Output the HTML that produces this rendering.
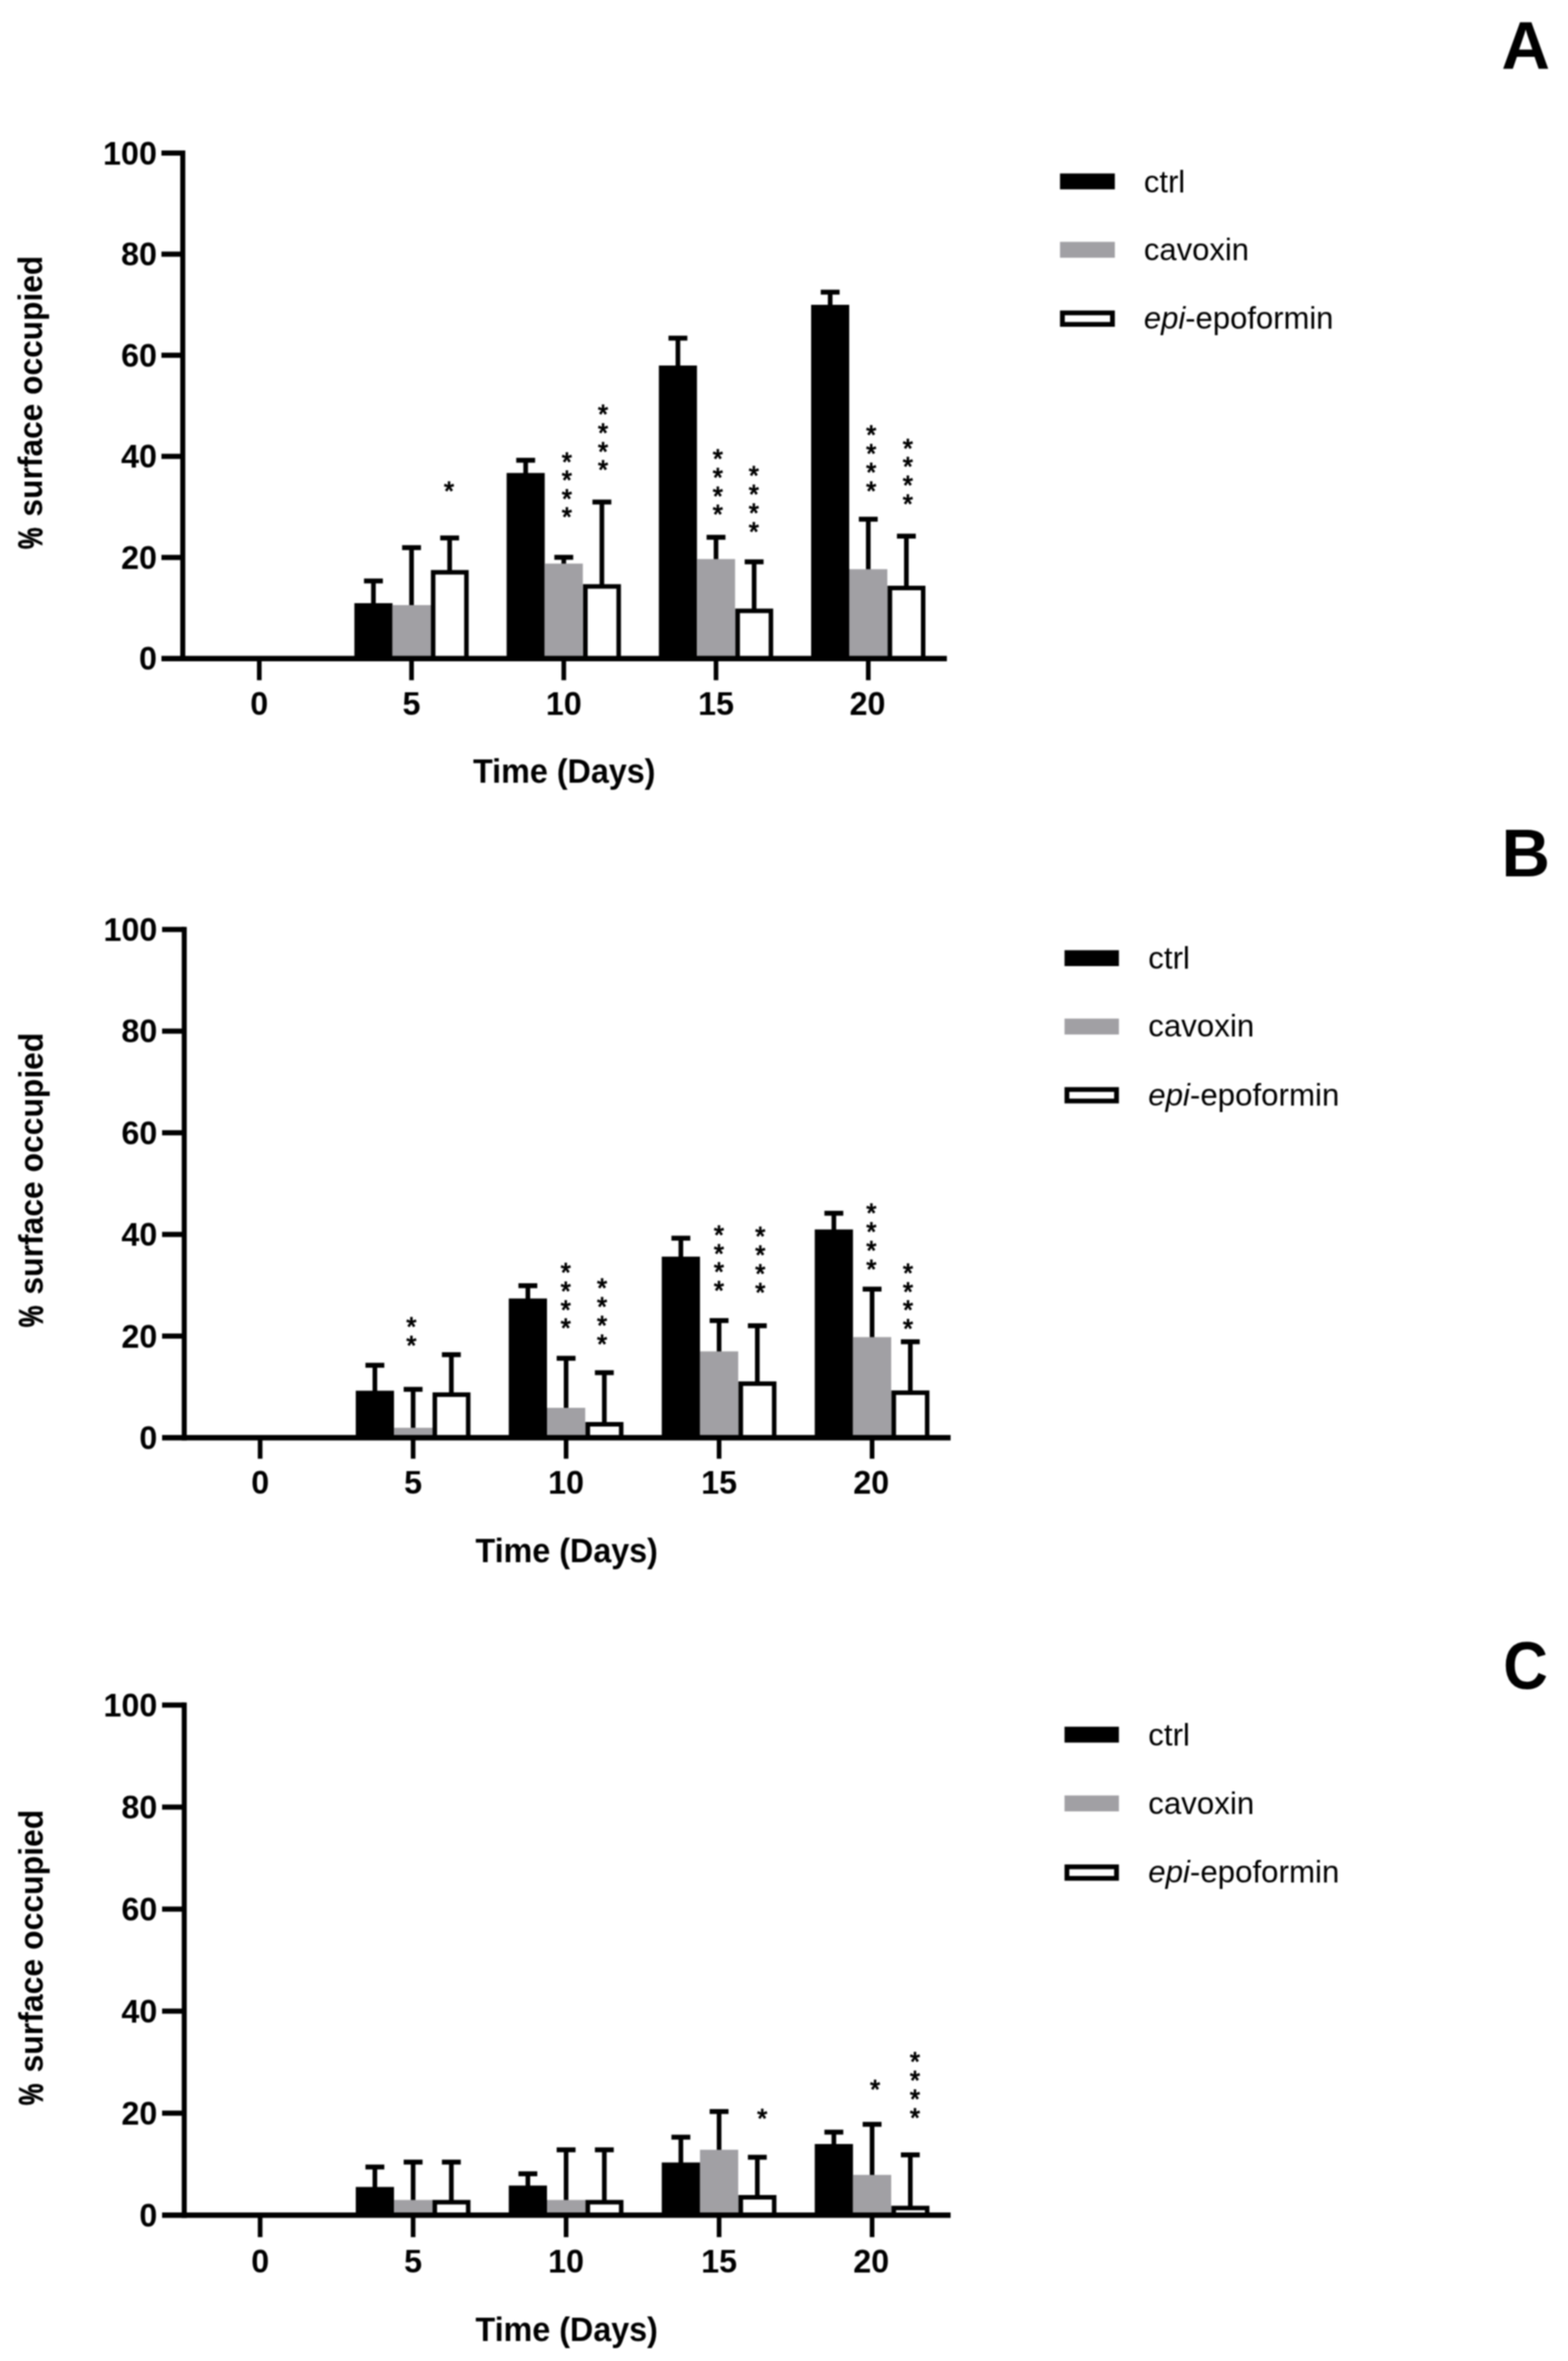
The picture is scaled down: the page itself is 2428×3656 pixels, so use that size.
<!DOCTYPE html>
<html lang="en">
<head>
<meta charset="utf-8">
<title>Surface occupied over time</title>
<style>
html,body{margin:0;padding:0;background:#fff;}
body{width:2428px;height:3656px;overflow:hidden;}
svg{display:block;filter:blur(1.1px);}
svg text{font-family:"Liberation Sans",Arial,Helvetica,sans-serif;fill:#000;}
</style>
</head>
<body>
<svg width="2428" height="3656" viewBox="0 0 2428 3656">
<rect x="0" y="0" width="2428" height="3656" fill="#fff"/>
<g>
<rect x="250.00" y="233.00" width="33.00" height="8.00" fill="#000"/>
<text x="243.00" y="254.60" font-size="50" font-weight="bold" text-anchor="end">100</text>
<rect x="250.00" y="389.56" width="33.00" height="8.00" fill="#000"/>
<text x="243.00" y="411.16" font-size="50" font-weight="bold" text-anchor="end">80</text>
<rect x="250.00" y="546.12" width="33.00" height="8.00" fill="#000"/>
<text x="243.00" y="567.72" font-size="50" font-weight="bold" text-anchor="end">60</text>
<rect x="250.00" y="702.68" width="33.00" height="8.00" fill="#000"/>
<text x="243.00" y="724.28" font-size="50" font-weight="bold" text-anchor="end">40</text>
<rect x="250.00" y="859.24" width="33.00" height="8.00" fill="#000"/>
<text x="243.00" y="880.84" font-size="50" font-weight="bold" text-anchor="end">20</text>
<text x="243.00" y="1037.40" font-size="50" font-weight="bold" text-anchor="end">0</text>
<rect x="397.90" y="1019.80" width="7.20" height="33.50" fill="#000"/>
<text x="401.50" y="1107.00" font-size="50" font-weight="bold" text-anchor="middle">0</text>
<rect x="633.65" y="1019.80" width="7.20" height="33.50" fill="#000"/>
<text x="637.25" y="1107.00" font-size="50" font-weight="bold" text-anchor="middle">5</text>
<rect x="869.40" y="1019.80" width="7.20" height="33.50" fill="#000"/>
<text x="873.00" y="1107.00" font-size="50" font-weight="bold" text-anchor="middle">10</text>
<rect x="1105.15" y="1019.80" width="7.20" height="33.50" fill="#000"/>
<text x="1108.75" y="1107.00" font-size="50" font-weight="bold" text-anchor="middle">15</text>
<rect x="1340.90" y="1019.80" width="7.20" height="33.50" fill="#000"/>
<text x="1343.20" y="1107.00" font-size="50" font-weight="bold" text-anchor="middle">20</text>
<text transform="translate(873.70,1212.10) scale(1,1.04)" font-size="50" font-weight="bold" text-anchor="middle">Time (Days)</text>
<text transform="translate(65.00,799.90) rotate(-90) scale(0.9540,1)" font-size="51.5" font-weight="bold">surface occupied</text>
<text transform="translate(65.00,850.30) rotate(-90) scale(0.7300,1)" font-size="51.5" font-weight="bold" stroke="#000" stroke-width="1.2">%</text>
<rect x="574.65" y="899.60" width="7.20" height="36.40" fill="#000"/>
<rect x="563.65" y="895.80" width="29.20" height="7.60" fill="#000"/>
<rect x="548.75" y="934.00" width="59.00" height="85.80" fill="#000"/>
<rect x="633.65" y="848.00" width="7.20" height="91.00" fill="#000"/>
<rect x="622.65" y="844.20" width="29.20" height="7.60" fill="#000"/>
<rect x="607.75" y="937.00" width="59.00" height="82.80" fill="#a1a0a4"/>
<rect x="666.25" y="937.00" width="1.70" height="82.80" fill="#a1a0a4"/>
<rect x="692.65" y="833.00" width="7.20" height="51.70" fill="#000"/>
<rect x="681.65" y="829.20" width="29.20" height="7.60" fill="#000"/>
<rect x="670.75" y="886.20" width="51.50" height="133.60" fill="#fff" stroke="#000" stroke-width="7.0"/>
<rect x="810.40" y="712.70" width="7.20" height="21.70" fill="#000"/>
<rect x="799.40" y="708.90" width="29.20" height="7.60" fill="#000"/>
<rect x="784.50" y="732.40" width="59.00" height="287.40" fill="#000"/>
<rect x="869.40" y="863.00" width="7.20" height="11.70" fill="#000"/>
<rect x="858.40" y="859.20" width="29.20" height="7.60" fill="#000"/>
<rect x="843.50" y="872.70" width="59.00" height="147.10" fill="#a1a0a4"/>
<rect x="902.00" y="904.60" width="1.70" height="115.20" fill="#a1a0a4"/>
<rect x="928.40" y="777.40" width="7.20" height="129.20" fill="#000"/>
<rect x="917.40" y="773.60" width="29.20" height="7.60" fill="#000"/>
<rect x="906.50" y="908.10" width="51.50" height="111.70" fill="#fff" stroke="#000" stroke-width="7.0"/>
<rect x="1046.15" y="523.60" width="7.20" height="44.40" fill="#000"/>
<rect x="1035.15" y="519.80" width="29.20" height="7.60" fill="#000"/>
<rect x="1020.25" y="566.00" width="59.00" height="453.80" fill="#000"/>
<rect x="1105.15" y="832.00" width="7.20" height="35.70" fill="#000"/>
<rect x="1094.15" y="828.20" width="29.20" height="7.60" fill="#000"/>
<rect x="1079.25" y="865.70" width="59.00" height="154.10" fill="#a1a0a4"/>
<rect x="1137.75" y="942.40" width="1.70" height="77.40" fill="#a1a0a4"/>
<rect x="1164.15" y="870.00" width="7.20" height="74.40" fill="#000"/>
<rect x="1153.15" y="866.20" width="29.20" height="7.60" fill="#000"/>
<rect x="1142.25" y="945.90" width="51.50" height="73.90" fill="#fff" stroke="#000" stroke-width="7.0"/>
<rect x="1281.90" y="452.40" width="7.20" height="21.60" fill="#000"/>
<rect x="1270.90" y="448.60" width="29.20" height="7.60" fill="#000"/>
<rect x="1256.00" y="472.00" width="59.00" height="547.80" fill="#000"/>
<rect x="1340.90" y="804.00" width="7.20" height="79.40" fill="#000"/>
<rect x="1329.90" y="800.20" width="29.20" height="7.60" fill="#000"/>
<rect x="1315.00" y="881.40" width="59.00" height="138.40" fill="#a1a0a4"/>
<rect x="1373.50" y="907.00" width="1.70" height="112.80" fill="#a1a0a4"/>
<rect x="1399.90" y="830.20" width="7.20" height="78.80" fill="#000"/>
<rect x="1388.90" y="826.40" width="29.20" height="7.60" fill="#000"/>
<rect x="1378.00" y="910.50" width="51.50" height="109.30" fill="#fff" stroke="#000" stroke-width="7.0"/>
<rect x="279.10" y="233.00" width="7.80" height="791.00" fill="#000"/>
<rect x="250.00" y="1015.60" width="1216.20" height="8.40" fill="#000"/>
<text x="695.40" y="774.10" font-size="40" font-weight="normal" stroke="#000" stroke-width="1.4" stroke-linejoin="round" text-anchor="middle">*</text>
<text x="877.80" y="729.00" font-size="40" font-weight="normal" stroke="#000" stroke-width="1.4" stroke-linejoin="round" text-anchor="middle">*</text>
<text x="877.80" y="757.37" font-size="40" font-weight="normal" stroke="#000" stroke-width="1.4" stroke-linejoin="round" text-anchor="middle">*</text>
<text x="877.80" y="785.73" font-size="40" font-weight="normal" stroke="#000" stroke-width="1.4" stroke-linejoin="round" text-anchor="middle">*</text>
<text x="877.80" y="814.10" font-size="40" font-weight="normal" stroke="#000" stroke-width="1.4" stroke-linejoin="round" text-anchor="middle">*</text>
<text x="933.90" y="655.30" font-size="40" font-weight="normal" stroke="#000" stroke-width="1.4" stroke-linejoin="round" text-anchor="middle">*</text>
<text x="933.90" y="683.90" font-size="40" font-weight="normal" stroke="#000" stroke-width="1.4" stroke-linejoin="round" text-anchor="middle">*</text>
<text x="933.90" y="712.50" font-size="40" font-weight="normal" stroke="#000" stroke-width="1.4" stroke-linejoin="round" text-anchor="middle">*</text>
<text x="933.90" y="741.10" font-size="40" font-weight="normal" stroke="#000" stroke-width="1.4" stroke-linejoin="round" text-anchor="middle">*</text>
<text x="1111.50" y="724.00" font-size="40" font-weight="normal" stroke="#000" stroke-width="1.4" stroke-linejoin="round" text-anchor="middle">*</text>
<text x="1111.50" y="752.80" font-size="40" font-weight="normal" stroke="#000" stroke-width="1.4" stroke-linejoin="round" text-anchor="middle">*</text>
<text x="1111.50" y="781.60" font-size="40" font-weight="normal" stroke="#000" stroke-width="1.4" stroke-linejoin="round" text-anchor="middle">*</text>
<text x="1111.50" y="810.40" font-size="40" font-weight="normal" stroke="#000" stroke-width="1.4" stroke-linejoin="round" text-anchor="middle">*</text>
<text x="1167.40" y="750.10" font-size="40" font-weight="normal" stroke="#000" stroke-width="1.4" stroke-linejoin="round" text-anchor="middle">*</text>
<text x="1167.40" y="779.10" font-size="40" font-weight="normal" stroke="#000" stroke-width="1.4" stroke-linejoin="round" text-anchor="middle">*</text>
<text x="1167.40" y="808.10" font-size="40" font-weight="normal" stroke="#000" stroke-width="1.4" stroke-linejoin="round" text-anchor="middle">*</text>
<text x="1167.40" y="837.10" font-size="40" font-weight="normal" stroke="#000" stroke-width="1.4" stroke-linejoin="round" text-anchor="middle">*</text>
<text x="1349.00" y="687.00" font-size="40" font-weight="normal" stroke="#000" stroke-width="1.4" stroke-linejoin="round" text-anchor="middle">*</text>
<text x="1349.00" y="715.90" font-size="40" font-weight="normal" stroke="#000" stroke-width="1.4" stroke-linejoin="round" text-anchor="middle">*</text>
<text x="1349.00" y="744.80" font-size="40" font-weight="normal" stroke="#000" stroke-width="1.4" stroke-linejoin="round" text-anchor="middle">*</text>
<text x="1349.00" y="773.70" font-size="40" font-weight="normal" stroke="#000" stroke-width="1.4" stroke-linejoin="round" text-anchor="middle">*</text>
<text x="1405.70" y="707.70" font-size="40" font-weight="normal" stroke="#000" stroke-width="1.4" stroke-linejoin="round" text-anchor="middle">*</text>
<text x="1405.70" y="736.40" font-size="40" font-weight="normal" stroke="#000" stroke-width="1.4" stroke-linejoin="round" text-anchor="middle">*</text>
<text x="1405.70" y="765.10" font-size="40" font-weight="normal" stroke="#000" stroke-width="1.4" stroke-linejoin="round" text-anchor="middle">*</text>
<text x="1405.70" y="793.80" font-size="40" font-weight="normal" stroke="#000" stroke-width="1.4" stroke-linejoin="round" text-anchor="middle">*</text>
<rect x="1641.40" y="268.60" width="84.90" height="24.60" fill="#000"/>
<text x="1771.30" y="298.40" font-size="48" font-weight="normal" text-anchor="start">ctrl</text>
<rect x="1641.40" y="374.50" width="84.90" height="24.60" fill="#a1a0a4"/>
<text x="1771.30" y="402.60" font-size="48" font-weight="normal" text-anchor="start">cavoxin</text>
<rect x="1645.10" y="484.50" width="77.50" height="17.80" fill="#fff" stroke="#000" stroke-width="7.4"/>
<text x="1771.30" y="508.80" font-size="48" font-weight="normal" text-anchor="start"><tspan font-style="italic">epi</tspan>-epoformin</text>
<text x="2325.10" y="105.60" font-size="104" font-weight="bold" text-anchor="start">A</text>
</g>
<g>
<rect x="251.00" y="1435.30" width="34.30" height="8.00" fill="#000"/>
<text x="243.60" y="1456.90" font-size="50" font-weight="bold" text-anchor="end">100</text>
<rect x="251.00" y="1592.70" width="34.30" height="8.00" fill="#000"/>
<text x="243.60" y="1614.30" font-size="50" font-weight="bold" text-anchor="end">80</text>
<rect x="251.00" y="1750.10" width="34.30" height="8.00" fill="#000"/>
<text x="243.60" y="1771.70" font-size="50" font-weight="bold" text-anchor="end">60</text>
<rect x="251.00" y="1907.50" width="34.30" height="8.00" fill="#000"/>
<text x="243.60" y="1929.10" font-size="50" font-weight="bold" text-anchor="end">40</text>
<rect x="251.00" y="2064.90" width="34.30" height="8.00" fill="#000"/>
<text x="243.60" y="2086.50" font-size="50" font-weight="bold" text-anchor="end">20</text>
<text x="243.60" y="2243.90" font-size="50" font-weight="bold" text-anchor="end">0</text>
<rect x="399.20" y="2226.30" width="7.20" height="32.50" fill="#000"/>
<text x="402.80" y="2313.20" font-size="50" font-weight="bold" text-anchor="middle">0</text>
<rect x="636.10" y="2226.30" width="7.20" height="32.50" fill="#000"/>
<text x="639.70" y="2313.20" font-size="50" font-weight="bold" text-anchor="middle">5</text>
<rect x="873.00" y="2226.30" width="7.20" height="32.50" fill="#000"/>
<text x="876.60" y="2313.20" font-size="50" font-weight="bold" text-anchor="middle">10</text>
<rect x="1109.90" y="2226.30" width="7.20" height="32.50" fill="#000"/>
<text x="1113.50" y="2313.20" font-size="50" font-weight="bold" text-anchor="middle">15</text>
<rect x="1346.80" y="2226.30" width="7.20" height="32.50" fill="#000"/>
<text x="1349.10" y="2313.20" font-size="50" font-weight="bold" text-anchor="middle">20</text>
<text transform="translate(877.50,2419.20) scale(1,1.04)" font-size="50" font-weight="bold" text-anchor="middle">Time (Days)</text>
<text transform="translate(65.50,2004.65) rotate(-90) scale(0.9578,1)" font-size="51.5" font-weight="bold">surface occupied</text>
<text transform="translate(65.50,2055.26) rotate(-90) scale(0.7329,1)" font-size="51.5" font-weight="bold" stroke="#000" stroke-width="1.2">%</text>
<rect x="576.90" y="2114.10" width="7.20" height="41.40" fill="#000"/>
<rect x="565.90" y="2110.30" width="29.20" height="7.60" fill="#000"/>
<rect x="550.90" y="2153.50" width="59.20" height="72.80" fill="#000"/>
<rect x="636.10" y="2151.40" width="7.20" height="61.50" fill="#000"/>
<rect x="625.10" y="2147.60" width="29.20" height="7.60" fill="#000"/>
<rect x="610.10" y="2210.90" width="59.20" height="15.40" fill="#a1a0a4"/>
<rect x="668.80" y="2210.90" width="1.70" height="15.40" fill="#a1a0a4"/>
<rect x="695.30" y="2097.70" width="7.20" height="60.40" fill="#000"/>
<rect x="684.30" y="2093.90" width="29.20" height="7.60" fill="#000"/>
<rect x="673.30" y="2159.60" width="51.70" height="66.70" fill="#fff" stroke="#000" stroke-width="7.0"/>
<rect x="813.80" y="1990.90" width="7.20" height="21.80" fill="#000"/>
<rect x="802.80" y="1987.10" width="29.20" height="7.60" fill="#000"/>
<rect x="787.80" y="2010.70" width="59.20" height="215.60" fill="#000"/>
<rect x="873.00" y="2103.30" width="7.20" height="78.70" fill="#000"/>
<rect x="862.00" y="2099.50" width="29.20" height="7.60" fill="#000"/>
<rect x="847.00" y="2180.00" width="59.20" height="46.30" fill="#a1a0a4"/>
<rect x="905.70" y="2202.00" width="1.70" height="24.30" fill="#a1a0a4"/>
<rect x="932.20" y="2125.60" width="7.20" height="78.40" fill="#000"/>
<rect x="921.20" y="2121.80" width="29.20" height="7.60" fill="#000"/>
<rect x="910.20" y="2205.50" width="51.70" height="20.80" fill="#fff" stroke="#000" stroke-width="7.0"/>
<rect x="1050.70" y="1917.30" width="7.20" height="30.60" fill="#000"/>
<rect x="1039.70" y="1913.50" width="29.20" height="7.60" fill="#000"/>
<rect x="1024.70" y="1945.90" width="59.20" height="280.40" fill="#000"/>
<rect x="1109.90" y="2044.90" width="7.20" height="49.70" fill="#000"/>
<rect x="1098.90" y="2041.10" width="29.20" height="7.60" fill="#000"/>
<rect x="1083.90" y="2092.60" width="59.20" height="133.70" fill="#a1a0a4"/>
<rect x="1142.60" y="2139.10" width="1.70" height="87.20" fill="#a1a0a4"/>
<rect x="1169.10" y="2052.90" width="7.20" height="88.20" fill="#000"/>
<rect x="1158.10" y="2049.10" width="29.20" height="7.60" fill="#000"/>
<rect x="1147.10" y="2142.60" width="51.70" height="83.70" fill="#fff" stroke="#000" stroke-width="7.0"/>
<rect x="1287.60" y="1878.70" width="7.20" height="27.10" fill="#000"/>
<rect x="1276.60" y="1874.90" width="29.20" height="7.60" fill="#000"/>
<rect x="1261.60" y="1903.80" width="59.20" height="322.50" fill="#000"/>
<rect x="1346.80" y="1996.20" width="7.20" height="76.30" fill="#000"/>
<rect x="1335.80" y="1992.40" width="29.20" height="7.60" fill="#000"/>
<rect x="1320.80" y="2070.50" width="59.20" height="155.80" fill="#a1a0a4"/>
<rect x="1379.50" y="2153.10" width="1.70" height="73.20" fill="#a1a0a4"/>
<rect x="1406.00" y="2077.70" width="7.20" height="77.40" fill="#000"/>
<rect x="1395.00" y="2073.90" width="29.20" height="7.60" fill="#000"/>
<rect x="1384.00" y="2156.60" width="51.70" height="69.70" fill="#fff" stroke="#000" stroke-width="7.0"/>
<rect x="281.40" y="1435.30" width="7.80" height="795.20" fill="#000"/>
<rect x="251.00" y="2222.10" width="1221.00" height="8.40" fill="#000"/>
<text x="637.10" y="2068.10" font-size="40" font-weight="normal" stroke="#000" stroke-width="1.4" stroke-linejoin="round" text-anchor="middle">*</text>
<text x="637.10" y="2096.80" font-size="40" font-weight="normal" stroke="#000" stroke-width="1.4" stroke-linejoin="round" text-anchor="middle">*</text>
<text x="876.00" y="1984.30" font-size="40" font-weight="normal" stroke="#000" stroke-width="1.4" stroke-linejoin="round" text-anchor="middle">*</text>
<text x="876.00" y="2013.00" font-size="40" font-weight="normal" stroke="#000" stroke-width="1.4" stroke-linejoin="round" text-anchor="middle">*</text>
<text x="876.00" y="2041.70" font-size="40" font-weight="normal" stroke="#000" stroke-width="1.4" stroke-linejoin="round" text-anchor="middle">*</text>
<text x="876.00" y="2070.40" font-size="40" font-weight="normal" stroke="#000" stroke-width="1.4" stroke-linejoin="round" text-anchor="middle">*</text>
<text x="932.40" y="2008.20" font-size="40" font-weight="normal" stroke="#000" stroke-width="1.4" stroke-linejoin="round" text-anchor="middle">*</text>
<text x="932.40" y="2037.20" font-size="40" font-weight="normal" stroke="#000" stroke-width="1.4" stroke-linejoin="round" text-anchor="middle">*</text>
<text x="932.40" y="2066.20" font-size="40" font-weight="normal" stroke="#000" stroke-width="1.4" stroke-linejoin="round" text-anchor="middle">*</text>
<text x="932.40" y="2095.20" font-size="40" font-weight="normal" stroke="#000" stroke-width="1.4" stroke-linejoin="round" text-anchor="middle">*</text>
<text x="1113.40" y="1925.90" font-size="40" font-weight="normal" stroke="#000" stroke-width="1.4" stroke-linejoin="round" text-anchor="middle">*</text>
<text x="1113.40" y="1954.60" font-size="40" font-weight="normal" stroke="#000" stroke-width="1.4" stroke-linejoin="round" text-anchor="middle">*</text>
<text x="1113.40" y="1983.30" font-size="40" font-weight="normal" stroke="#000" stroke-width="1.4" stroke-linejoin="round" text-anchor="middle">*</text>
<text x="1113.40" y="2012.00" font-size="40" font-weight="normal" stroke="#000" stroke-width="1.4" stroke-linejoin="round" text-anchor="middle">*</text>
<text x="1177.20" y="1928.10" font-size="40" font-weight="normal" stroke="#000" stroke-width="1.4" stroke-linejoin="round" text-anchor="middle">*</text>
<text x="1177.20" y="1957.13" font-size="40" font-weight="normal" stroke="#000" stroke-width="1.4" stroke-linejoin="round" text-anchor="middle">*</text>
<text x="1177.20" y="1986.17" font-size="40" font-weight="normal" stroke="#000" stroke-width="1.4" stroke-linejoin="round" text-anchor="middle">*</text>
<text x="1177.20" y="2015.20" font-size="40" font-weight="normal" stroke="#000" stroke-width="1.4" stroke-linejoin="round" text-anchor="middle">*</text>
<text x="1349.40" y="1891.80" font-size="40" font-weight="normal" stroke="#000" stroke-width="1.4" stroke-linejoin="round" text-anchor="middle">*</text>
<text x="1349.40" y="1920.90" font-size="40" font-weight="normal" stroke="#000" stroke-width="1.4" stroke-linejoin="round" text-anchor="middle">*</text>
<text x="1349.40" y="1950.00" font-size="40" font-weight="normal" stroke="#000" stroke-width="1.4" stroke-linejoin="round" text-anchor="middle">*</text>
<text x="1349.40" y="1979.10" font-size="40" font-weight="normal" stroke="#000" stroke-width="1.4" stroke-linejoin="round" text-anchor="middle">*</text>
<text x="1406.10" y="1984.90" font-size="40" font-weight="normal" stroke="#000" stroke-width="1.4" stroke-linejoin="round" text-anchor="middle">*</text>
<text x="1406.10" y="2013.60" font-size="40" font-weight="normal" stroke="#000" stroke-width="1.4" stroke-linejoin="round" text-anchor="middle">*</text>
<text x="1406.10" y="2042.30" font-size="40" font-weight="normal" stroke="#000" stroke-width="1.4" stroke-linejoin="round" text-anchor="middle">*</text>
<text x="1406.10" y="2071.00" font-size="40" font-weight="normal" stroke="#000" stroke-width="1.4" stroke-linejoin="round" text-anchor="middle">*</text>
<rect x="1648.40" y="1471.40" width="84.20" height="24.60" fill="#000"/>
<text x="1778.00" y="1500.20" font-size="48.4" font-weight="normal" text-anchor="start">ctrl</text>
<rect x="1648.40" y="1577.30" width="84.20" height="24.60" fill="#a1a0a4"/>
<text x="1778.00" y="1605.40" font-size="48.4" font-weight="normal" text-anchor="start">cavoxin</text>
<rect x="1652.10" y="1687.10" width="76.80" height="17.80" fill="#fff" stroke="#000" stroke-width="7.4"/>
<text x="1778.00" y="1711.70" font-size="48.4" font-weight="normal" text-anchor="start"><tspan font-style="italic">epi</tspan>-epoformin</text>
<text x="2325.10" y="1356.70" font-size="104" font-weight="bold" text-anchor="start">B</text>
</g>
<g>
<rect x="251.00" y="2636.30" width="34.30" height="8.00" fill="#000"/>
<text x="243.60" y="2657.90" font-size="50" font-weight="bold" text-anchor="end">100</text>
<rect x="251.00" y="2794.28" width="34.30" height="8.00" fill="#000"/>
<text x="243.60" y="2815.88" font-size="50" font-weight="bold" text-anchor="end">80</text>
<rect x="251.00" y="2952.26" width="34.30" height="8.00" fill="#000"/>
<text x="243.60" y="2973.86" font-size="50" font-weight="bold" text-anchor="end">60</text>
<rect x="251.00" y="3110.24" width="34.30" height="8.00" fill="#000"/>
<text x="243.60" y="3131.84" font-size="50" font-weight="bold" text-anchor="end">40</text>
<rect x="251.00" y="3268.22" width="34.30" height="8.00" fill="#000"/>
<text x="243.60" y="3289.82" font-size="50" font-weight="bold" text-anchor="end">20</text>
<text x="243.60" y="3447.80" font-size="50" font-weight="bold" text-anchor="end">0</text>
<rect x="399.20" y="3430.20" width="7.20" height="34.00" fill="#000"/>
<text x="402.80" y="3518.60" font-size="50" font-weight="bold" text-anchor="middle">0</text>
<rect x="636.10" y="3430.20" width="7.20" height="34.00" fill="#000"/>
<text x="639.70" y="3518.60" font-size="50" font-weight="bold" text-anchor="middle">5</text>
<rect x="873.00" y="3430.20" width="7.20" height="34.00" fill="#000"/>
<text x="876.60" y="3518.60" font-size="50" font-weight="bold" text-anchor="middle">10</text>
<rect x="1109.90" y="3430.20" width="7.20" height="34.00" fill="#000"/>
<text x="1113.50" y="3518.60" font-size="50" font-weight="bold" text-anchor="middle">15</text>
<rect x="1346.80" y="3430.20" width="7.20" height="34.00" fill="#000"/>
<text x="1349.10" y="3518.60" font-size="50" font-weight="bold" text-anchor="middle">20</text>
<text transform="translate(877.50,3625.30) scale(1,1.04)" font-size="50" font-weight="bold" text-anchor="middle">Time (Days)</text>
<text transform="translate(65.50,3209.32) rotate(-90) scale(0.9612,1)" font-size="51.5" font-weight="bold">surface occupied</text>
<text transform="translate(65.50,3260.10) rotate(-90) scale(0.7355,1)" font-size="51.5" font-weight="bold" stroke="#000" stroke-width="1.2">%</text>
<rect x="576.90" y="3355.60" width="7.20" height="32.90" fill="#000"/>
<rect x="565.90" y="3351.80" width="29.20" height="7.60" fill="#000"/>
<rect x="550.90" y="3386.50" width="59.20" height="43.70" fill="#000"/>
<rect x="636.10" y="3348.00" width="7.20" height="60.60" fill="#000"/>
<rect x="625.10" y="3344.20" width="29.20" height="7.60" fill="#000"/>
<rect x="610.10" y="3406.60" width="59.20" height="23.60" fill="#a1a0a4"/>
<rect x="668.80" y="3406.60" width="1.70" height="23.60" fill="#a1a0a4"/>
<rect x="695.30" y="3348.00" width="7.20" height="60.60" fill="#000"/>
<rect x="684.30" y="3344.20" width="29.20" height="7.60" fill="#000"/>
<rect x="673.30" y="3410.10" width="51.70" height="20.10" fill="#fff" stroke="#000" stroke-width="7.0"/>
<rect x="813.80" y="3366.10" width="7.20" height="20.20" fill="#000"/>
<rect x="802.80" y="3362.30" width="29.20" height="7.60" fill="#000"/>
<rect x="787.80" y="3384.30" width="59.20" height="45.90" fill="#000"/>
<rect x="873.00" y="3329.00" width="7.20" height="79.60" fill="#000"/>
<rect x="862.00" y="3325.20" width="29.20" height="7.60" fill="#000"/>
<rect x="847.00" y="3406.60" width="59.20" height="23.60" fill="#a1a0a4"/>
<rect x="905.70" y="3406.60" width="1.70" height="23.60" fill="#a1a0a4"/>
<rect x="932.20" y="3329.00" width="7.20" height="79.60" fill="#000"/>
<rect x="921.20" y="3325.20" width="29.20" height="7.60" fill="#000"/>
<rect x="910.20" y="3410.10" width="51.70" height="20.10" fill="#fff" stroke="#000" stroke-width="7.0"/>
<rect x="1050.70" y="3309.40" width="7.20" height="41.20" fill="#000"/>
<rect x="1039.70" y="3305.60" width="29.20" height="7.60" fill="#000"/>
<rect x="1024.70" y="3348.60" width="59.20" height="81.60" fill="#000"/>
<rect x="1109.90" y="3269.70" width="7.20" height="61.20" fill="#000"/>
<rect x="1098.90" y="3265.90" width="29.20" height="7.60" fill="#000"/>
<rect x="1083.90" y="3328.90" width="59.20" height="101.30" fill="#a1a0a4"/>
<rect x="1142.60" y="3399.00" width="1.70" height="31.20" fill="#a1a0a4"/>
<rect x="1169.10" y="3340.50" width="7.20" height="60.50" fill="#000"/>
<rect x="1158.10" y="3336.70" width="29.20" height="7.60" fill="#000"/>
<rect x="1147.10" y="3402.50" width="51.70" height="27.70" fill="#fff" stroke="#000" stroke-width="7.0"/>
<rect x="1287.60" y="3301.60" width="7.20" height="20.40" fill="#000"/>
<rect x="1276.60" y="3297.80" width="29.20" height="7.60" fill="#000"/>
<rect x="1261.60" y="3320.00" width="59.20" height="110.20" fill="#000"/>
<rect x="1346.80" y="3289.50" width="7.20" height="80.30" fill="#000"/>
<rect x="1335.80" y="3285.70" width="29.20" height="7.60" fill="#000"/>
<rect x="1320.80" y="3367.80" width="59.20" height="62.40" fill="#a1a0a4"/>
<rect x="1379.50" y="3415.60" width="1.70" height="14.60" fill="#a1a0a4"/>
<rect x="1406.00" y="3336.80" width="7.20" height="80.80" fill="#000"/>
<rect x="1395.00" y="3333.00" width="29.20" height="7.60" fill="#000"/>
<rect x="1384.00" y="3419.10" width="51.70" height="11.10" fill="#fff" stroke="#000" stroke-width="7.0"/>
<rect x="281.40" y="2636.30" width="7.80" height="798.10" fill="#000"/>
<rect x="251.00" y="3426.00" width="1221.00" height="8.40" fill="#000"/>
<text x="1180.40" y="3293.50" font-size="40" font-weight="normal" stroke="#000" stroke-width="1.4" stroke-linejoin="round" text-anchor="middle">*</text>
<text x="1355.10" y="3248.90" font-size="40" font-weight="normal" stroke="#000" stroke-width="1.4" stroke-linejoin="round" text-anchor="middle">*</text>
<text x="1416.70" y="3205.90" font-size="40" font-weight="normal" stroke="#000" stroke-width="1.4" stroke-linejoin="round" text-anchor="middle">*</text>
<text x="1416.70" y="3234.90" font-size="40" font-weight="normal" stroke="#000" stroke-width="1.4" stroke-linejoin="round" text-anchor="middle">*</text>
<text x="1416.70" y="3263.90" font-size="40" font-weight="normal" stroke="#000" stroke-width="1.4" stroke-linejoin="round" text-anchor="middle">*</text>
<text x="1416.70" y="3292.90" font-size="40" font-weight="normal" stroke="#000" stroke-width="1.4" stroke-linejoin="round" text-anchor="middle">*</text>
<rect x="1648.40" y="2673.80" width="84.20" height="24.60" fill="#000"/>
<text x="1778.00" y="2703.00" font-size="48.4" font-weight="normal" text-anchor="start">ctrl</text>
<rect x="1648.40" y="2780.30" width="84.20" height="24.60" fill="#a1a0a4"/>
<text x="1778.00" y="2808.90" font-size="48.4" font-weight="normal" text-anchor="start">cavoxin</text>
<rect x="1652.10" y="2890.80" width="76.80" height="17.80" fill="#fff" stroke="#000" stroke-width="7.4"/>
<text x="1778.00" y="2914.80" font-size="48.4" font-weight="normal" text-anchor="start"><tspan font-style="italic">epi</tspan>-epoformin</text>
<text transform="translate(2362.9,2615.20) scale(0.92,1)" x="-38.3" y="0" font-size="104" font-weight="bold">C</text>
</g>
</svg>
</body>
</html>
